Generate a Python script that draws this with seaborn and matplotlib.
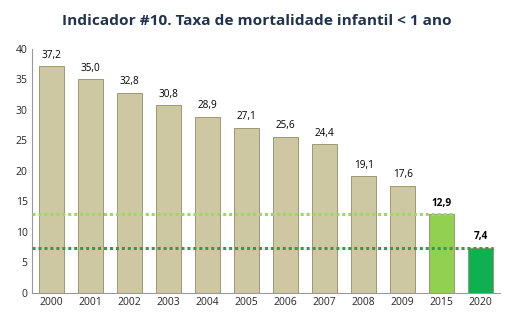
import matplotlib
matplotlib.use("Agg")
import matplotlib.pyplot as plt
import seaborn as sns
import pandas as pd

years = ["2000", "2001", "2002", "2003", "2004", "2005", "2006", "2007", "2008", "2009", "2015", "2020"]
values = [37.2, 35.0, 32.8, 30.8, 28.9, 27.1, 25.6, 24.4, 19.1, 17.6, 12.9, 7.4]
bar_colors = ["#cdc8a2"] * 10 + ["#92d050", "#0fb050"]
targets = [12.9, 7.4]
target_colors = ["#9ed66a", "#1aa84c"]

sns.set_style("white")
plt.rcParams['font.family'] = ['Open Sans', 'DejaVu Sans']

df = pd.DataFrame({"year": years, "value": values})
fig = plt.figure(figsize=(5.13, 3.24), dpi=100)
ax = fig.add_axes([0.062, 0.096, 0.913, 0.753])
sns.barplot(data=df, x="year", y="value", hue="year", palette=bar_colors,
            saturation=1, legend=False, width=0.64, ax=ax,
            edgecolor="#9d9872", linewidth=0.7)

for i, (t, c) in enumerate(zip(targets, target_colors)):
    end = len(years) - 2 + i + 0.32
    ax.plot([-0.5, end], [t, t], linestyle=(0, (1, 0.95)), color=c,
            linewidth=2.2, zorder=5)

for i, v in enumerate(values):
    label = f"{v:.1f}".replace(".", ",")
    bold = i >= 10
    ax.text(i, v + 0.9, label, ha="center", va="bottom", fontsize=7.2,
            fontweight="bold" if bold else "normal", color="black")

ax.set_ylim(0, 40)
ax.set_xlim(-0.5, len(years) - 0.5)
ax.set_yticks(range(0, 41, 5))
ax.set_xlabel("")
ax.set_ylabel("")
ax.tick_params(axis="both", labelsize=7.5, length=0, pad=3)
for s in ["top", "right"]:
    ax.spines[s].set_visible(False)
ax.spines["left"].set_color("#999999")
ax.spines["bottom"].set_color("#999999")
ax.spines["left"].set_linewidth(0.8)
ax.spines["bottom"].set_linewidth(0.8)

fig.text(0.5, 0.935, "Indicador #10. Taxa de mortalidade infantil < 1 ano",
         ha="center", va="center", fontsize=11.1, fontweight="bold", color="#1f3350")

fig.savefig("out.png", dpi=100)
